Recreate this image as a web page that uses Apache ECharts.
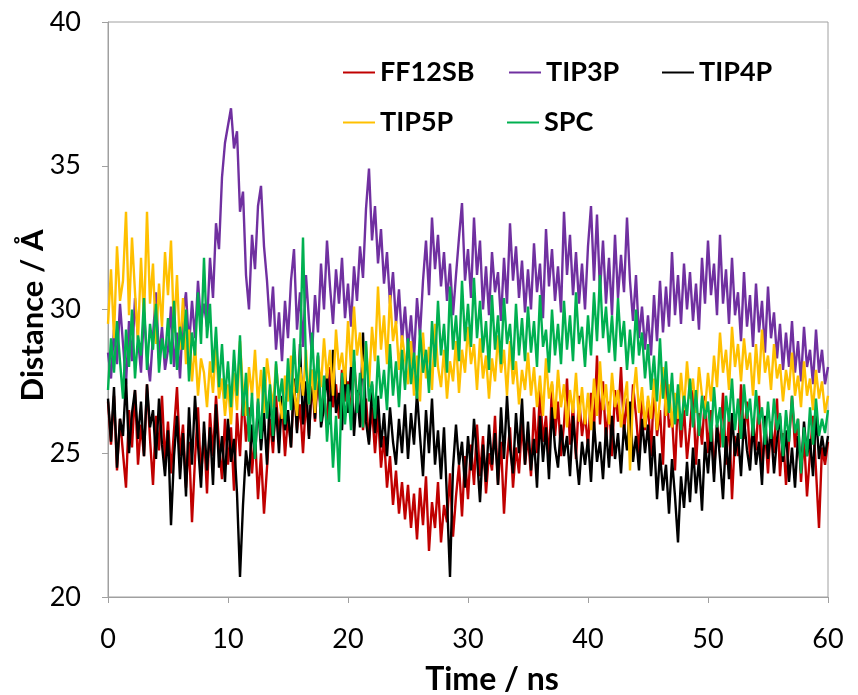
<!DOCTYPE html>
<html>
<head>
<meta charset="utf-8">
<script src="https://cdn.jsdelivr.net/npm/echarts@6/dist/echarts.min.js"></script>
<style>
html,body{margin:0;padding:0;background:#fff;}
#chart{width:858px;height:695px;}
</style>
</head>
<body>
<div id="chart"></div>
<script>
// sampling step of the traces, ns
var step=0.25;
var seriesNames=['FF12SB','TIP3P','TIP4P','TIP5P','SPC'];
var seriesColors=['#c00000','#7030a0','#000000','#ffc000','#00b050'];
var xTicks=[0,10,20,30,40,50,60];
var yTicks=[20,25,30,35,40];

var ff12sb=[
26.8,25.3,27.0,24.4,26.2,25.0,23.8,26.5,25.2,27.2,24.6,26.0,24.9,27.4,25.5,23.9,26.3,25.1,27.0,24.7,
26.1,24.3,25.8,27.3,24.9,26.0,23.8,25.4,22.6,24.8,26.6,24.2,25.7,23.6,26.4,24.9,27.0,25.3,24.1,26.2,
24.6,25.9,23.7,26.4,24.9,27.2,25.4,26.6,24.3,25.7,23.4,25.0,22.9,24.5,26.2,25.0,27.0,25.6,26.8,24.9,
26.3,25.2,27.4,25.8,26.7,25.0,26.9,25.6,27.5,26.1,27.8,26.4,27.1,25.9,28.0,26.6,27.4,26.2,27.9,26.8,
27.5,26.3,28.2,26.9,27.3,25.8,26.9,25.4,26.6,25.0,26.4,24.5,25.6,23.8,24.9,23.2,24.4,22.9,24.0,22.7,
23.9,22.4,23.6,22.0,23.8,22.5,24.2,21.6,23.3,22.4,24.0,21.9,23.2,22.6,24.3,22.1,23.5,24.6,22.8,24.9,
23.4,25.3,23.9,26.0,24.2,25.6,23.6,25.0,24.4,26.3,23.9,25.4,22.9,24.8,25.9,23.8,25.2,24.3,26.1,24.6,
25.6,24.2,26.6,25.0,27.2,25.4,26.3,24.7,27.4,25.6,26.8,24.9,26.0,27.6,25.3,26.7,24.8,27.0,25.6,26.4,
25.2,27.1,25.8,28.4,26.0,27.5,25.4,26.8,24.9,27.2,26.1,28.0,25.7,26.9,25.1,27.4,26.3,25.0,27.0,25.8,
26.8,24.9,27.3,25.6,26.5,24.6,27.6,25.9,26.3,24.4,27.0,25.2,26.6,24.8,25.9,27.2,24.6,26.4,25.3,27.0,
25.0,26.5,24.3,26.0,25.2,27.1,24.6,26.3,23.4,25.6,24.9,27.4,25.5,26.8,24.8,26.2,25.1,27.0,24.4,25.8,
24.3,26.1,25.0,26.9,24.2,25.7,23.9,25.4,27.0,25.2,26.2,24.0,25.6,23.5,25.0,26.3,24.4,22.4,25.2,24.6,
25.4];

var tip3p=[
28.5,27.6,29.3,28.1,30.2,28.8,27.4,29.6,28.2,30.4,29.0,27.8,29.9,28.4,27.5,29.1,30.6,28.3,29.4,27.9,
28.6,30.1,28.0,29.2,27.6,29.8,30.6,28.7,30.3,29.0,31.0,29.5,30.2,29.4,31.8,30.4,33.0,32.1,34.6,35.8,
36.4,37.0,35.6,36.2,33.4,34.1,31.2,30.0,32.6,31.4,33.6,34.3,32.2,31.0,29.4,30.8,28.6,29.9,28.2,30.3,
29.0,31.0,32.1,29.3,30.6,28.7,31.2,29.6,28.4,30.5,29.2,31.6,30.0,32.4,30.8,29.5,31.4,30.2,31.8,29.7,
30.9,29.4,31.5,30.3,32.2,31.1,33.5,34.9,32.4,33.6,31.6,32.8,30.9,32.0,30.2,31.3,29.5,30.7,28.9,30.1,
28.6,29.8,28.3,30.4,29.1,31.0,32.4,30.5,33.2,31.4,32.6,30.8,32.0,30.3,31.6,29.8,31.2,32.5,33.7,31.0,
32.1,30.4,33.2,31.2,32.4,30.0,31.5,29.8,32.0,30.6,31.3,29.6,31.8,30.2,33.0,31.0,32.2,30.4,31.7,29.9,
31.4,30.0,32.3,30.6,31.6,29.7,32.8,30.8,32.1,30.3,31.5,29.9,33.4,31.2,32.6,30.5,32.0,30.2,31.6,30.0,
32.2,33.6,31.0,33.3,30.6,32.4,30.2,31.8,29.8,32.6,30.4,31.9,30.6,33.2,31.0,29.6,31.2,29.0,30.1,28.6,
29.8,28.4,30.5,28.9,31.0,29.2,30.8,29.4,32.0,29.8,31.2,29.5,31.6,30.0,31.3,29.6,30.9,29.3,31.8,30.2,
32.4,30.5,31.6,29.8,32.6,30.2,31.4,29.5,31.8,29.8,30.6,28.9,31.3,29.4,30.5,28.7,30.9,29.2,30.3,28.5,
30.8,29.0,29.9,28.3,29.5,27.9,29.2,28.0,29.6,27.8,28.9,27.5,29.4,28.0,28.6,27.4,29.3,27.8,28.6,27.4,
28.0];

var tip4p=[
26.9,25.4,27.3,24.5,26.2,25.6,27.6,25.0,26.4,27.2,25.5,26.8,24.9,27.4,25.9,26.5,24.8,26.9,25.3,24.2,
25.8,22.5,24.9,26.3,24.1,25.7,23.5,26.6,24.6,27.0,25.3,23.8,26.1,24.4,25.9,23.9,26.7,24.5,25.6,24.0,
26.2,24.7,25.5,23.6,20.7,23.2,25.1,24.2,26.0,24.8,26.8,25.1,26.4,24.6,27.2,25.4,26.6,25.0,27.0,25.8,
26.5,25.2,27.6,25.7,28.8,26.0,27.5,25.5,27.9,26.2,28.4,25.9,26.6,27.8,26.0,28.6,26.4,27.1,25.8,27.9,
26.4,28.0,25.6,27.2,25.9,29.2,26.1,25.3,27.4,25.7,27.0,25.2,26.4,24.9,26.6,25.4,24.6,26.2,25.0,26.7,
24.8,26.4,25.3,27.1,25.6,24.2,26.5,25.0,26.9,24.6,25.8,24.1,25.9,23.4,20.7,24.5,26.0,24.6,25.4,23.8,
25.6,24.4,26.2,24.9,23.3,25.3,24.0,26.0,24.6,25.7,23.9,26.6,24.8,27.0,25.2,24.3,26.4,25.0,26.9,24.6,
26.1,24.4,25.5,23.8,26.3,24.7,25.9,24.1,26.6,25.2,24.5,26.0,24.9,25.6,24.2,26.3,25.0,23.9,25.4,24.6,
25.5,24.0,26.1,24.7,25.4,24.1,25.9,24.5,26.3,24.8,25.7,24.3,26.0,25.1,26.8,24.7,25.6,24.4,26.2,25.0,
26.0,24.2,25.6,23.4,25.0,23.7,24.6,22.9,24.8,23.5,21.9,24.2,23.1,24.7,23.3,25.2,23.6,24.8,23.0,25.4,
24.3,25.8,24.0,26.0,24.8,23.4,25.6,24.1,26.4,24.9,25.7,24.2,26.2,25.1,24.4,26.0,24.6,25.4,23.9,26.3,
24.8,25.9,24.3,25.5,26.3,24.7,25.8,24.0,25.2,23.8,25.6,24.4,26.1,24.9,25.5,24.2,26.4,24.8,25.6,24.9,
25.6];

var tip5p=[
29.5,31.4,29.0,32.2,30.3,31.0,33.4,29.8,32.5,30.6,28.9,31.8,29.6,33.4,30.2,31.6,28.8,30.9,29.4,32.0,
30.5,32.4,29.2,31.2,28.6,30.4,28.1,29.3,27.5,28.8,27.0,28.3,27.8,26.6,28.2,27.1,28.8,26.9,27.6,26.3,
27.4,26.0,27.8,26.5,28.9,27.2,26.3,28.0,27.0,28.6,26.7,27.9,26.4,28.3,27.4,26.6,28.1,27.0,26.2,27.7,
26.8,28.4,27.2,26.3,28.0,27.0,28.6,26.7,27.9,26.4,28.3,27.3,29.0,27.6,28.6,27.0,29.3,27.9,28.5,27.4,
29.6,28.0,30.1,28.4,29.2,27.6,28.8,27.3,29.4,28.2,30.8,28.6,29.8,28.1,30.5,28.9,29.6,27.9,29.1,28.3,
27.4,28.9,27.0,28.4,26.8,29.2,27.6,28.7,27.2,29.5,28.0,27.3,28.6,26.9,28.2,27.5,28.9,27.1,28.6,27.8,
29.4,28.1,28.8,27.2,29.0,27.6,28.4,26.9,28.3,27.5,29.1,27.8,28.6,27.0,28.9,27.4,28.2,26.7,27.9,27.2,
28.5,27.0,28.0,26.6,27.7,26.3,28.3,26.9,27.5,26.2,27.9,26.6,27.4,25.9,27.2,26.4,27.8,26.1,27.3,26.0,
27.1,25.8,27.6,26.3,28.2,26.5,27.4,26.0,27.8,26.6,27.2,25.9,26.8,27.5,24.4,26.9,28.0,26.4,27.3,25.9,
27.0,26.2,27.6,25.8,26.9,28.0,26.3,27.4,25.9,27.1,26.2,27.8,26.5,28.2,26.9,27.6,26.4,28.0,27.0,26.5,
27.8,26.8,28.4,27.3,29.2,27.8,28.6,27.2,29.4,28.0,28.8,27.5,29.0,27.9,28.5,27.0,28.8,27.4,29.3,27.8,
28.4,27.2,28.8,27.6,28.1,26.8,27.9,27.2,28.5,27.0,27.7,26.6,28.2,27.0,27.6,26.5,27.9,26.9,27.5,26.4,
27.0];

var spc=[
27.2,29.0,27.8,29.6,28.2,26.9,29.3,28.0,30.0,27.6,29.1,28.4,30.4,27.9,29.5,28.6,30.2,27.8,29.0,28.3,
29.7,28.1,30.3,27.9,29.4,28.6,30.0,27.5,29.2,28.4,30.6,28.8,31.8,29.0,30.2,27.8,29.4,27.3,28.8,26.9,
28.2,26.6,28.6,27.0,29.1,26.3,27.8,25.4,27.1,24.8,26.9,25.5,28.0,26.2,27.4,25.6,28.2,26.8,27.6,26.0,
28.3,26.5,29.0,27.1,28.4,32.5,28.0,26.7,29.2,27.2,28.5,26.1,27.7,25.4,26.8,24.5,26.3,24.0,27.8,26.0,
27.4,25.8,28.6,26.4,27.8,25.9,28.9,26.8,27.5,26.2,28.4,26.9,27.9,26.5,28.8,27.0,28.2,26.6,28.6,27.2,
29.0,27.4,28.5,26.9,29.3,27.8,28.6,27.1,29.6,28.0,30.3,28.4,29.5,27.8,30.8,28.6,29.8,28.2,31.0,28.9,
30.2,28.7,31.1,29.0,30.3,28.5,29.6,27.9,30.5,28.6,29.8,28.1,30.4,28.8,29.5,27.9,30.2,28.4,29.7,28.2,
30.1,28.5,29.6,28.0,30.5,28.7,29.3,27.8,30.0,28.4,29.5,28.1,30.3,28.6,29.8,28.2,30.6,28.8,29.4,28.0,
29.8,28.4,30.6,28.9,31.2,29.0,30.1,28.5,29.8,28.2,30.4,28.7,29.6,27.9,29.3,28.1,30.0,28.4,29.2,27.6,
28.8,27.2,28.4,26.8,29.0,26.9,28.2,26.4,27.8,26.0,27.4,25.8,27.0,26.3,27.6,25.9,27.2,25.6,27.0,26.2,
26.8,25.4,27.3,25.9,26.6,25.2,27.0,26.1,27.6,25.8,26.9,25.5,27.4,26.2,26.9,25.6,27.2,26.0,26.6,25.3,
26.8,25.5,26.9,25.8,26.4,24.9,26.5,25.4,27.0,25.7,26.2,24.3,25.9,24.9,26.6,25.3,26.9,25.6,26.2,25.7,
26.5];

var allData=[ff12sb,tip3p,tip4p,tip5p,spc];

function toPairs(arr){
	var out=[];
	for(var i=0;i<arr.length;i++){
		out.push([i*step,arr[i]]);
	}
	return out;
}

var fontFam='Lato, "Open Sans", sans-serif';
var axisGray='#a0a0a0';

var series=[];
for(var s=0;s<seriesNames.length;s++){
	series.push({
		name:seriesNames[s],
		type:'line',
		showSymbol:false,
		symbol:'none',
		data:toPairs(allData[s]),
		lineStyle:{color:seriesColors[s],width:2.4},
		itemStyle:{color:seriesColors[s]}
	});
}

// legend placement, one legend per entry (two rows)
var legendPos=[[343,59],[509,59],[662,59],[343,109],[507,109]];
var legends=[];
for(var k=0;k<seriesNames.length;k++){
	legends.push({
		data:[seriesNames[k]],
		left:legendPos[k][0],
		top:legendPos[k][1],
		padding:0,
		icon:'rect',
		itemWidth:32,
		itemHeight:2,
		itemGap:4,
		textStyle:{fontFamily:fontFam,fontWeight:'bold',fontSize:27,color:'#000',padding:[0,0,0,0]}
	});
}

var myChart=echarts.init(document.getElementById('chart'),null,{renderer:'canvas'});
var option={
	animation:false,
	backgroundColor:'#fff',
	legend:legends,
	grid:{left:108,right:30,top:22,bottom:98,show:true,borderColor:axisGray,borderWidth:1,outerBoundsMode:'none',containLabel:false},
	xAxis:{
		type:'value',
		min:xTicks[0],
		max:xTicks[xTicks.length-1],
		interval:10,
		name:'Time / ns',
		nameLocation:'middle',
		nameGap:67,
		nameMoveOverlap:false,
		nameTextStyle:{fontFamily:fontFam,fontWeight:'bold',fontSize:32,color:'#000',padding:[0,0,0,48]},
		axisLine:{show:true,lineStyle:{color:axisGray,width:1}},
		axisTick:{show:true,inside:false,length:6,lineStyle:{color:axisGray}},
		axisLabel:{fontFamily:fontFam,fontSize:27,color:'#000',margin:29},
		splitLine:{show:false}
	},
	yAxis:{
		type:'value',
		min:yTicks[0],
		max:yTicks[yTicks.length-1],
		interval:5,
		name:'Distance / Å',
		nameLocation:'middle',
		nameGap:60,
		nameMoveOverlap:false,
		nameRotate:90,
		nameTextStyle:{fontFamily:fontFam,fontWeight:'bold',fontSize:31,color:'#000',padding:[0,12,0,0]},
		axisLine:{show:true,lineStyle:{color:axisGray,width:1}},
		axisTick:{show:true,inside:false,length:6,lineStyle:{color:axisGray}},
		axisLabel:{fontFamily:fontFam,fontSize:27,color:'#000',margin:27},
		splitLine:{show:false}
	},
	series:series
};
myChart.setOption(option);
</script>
</body>
</html>
